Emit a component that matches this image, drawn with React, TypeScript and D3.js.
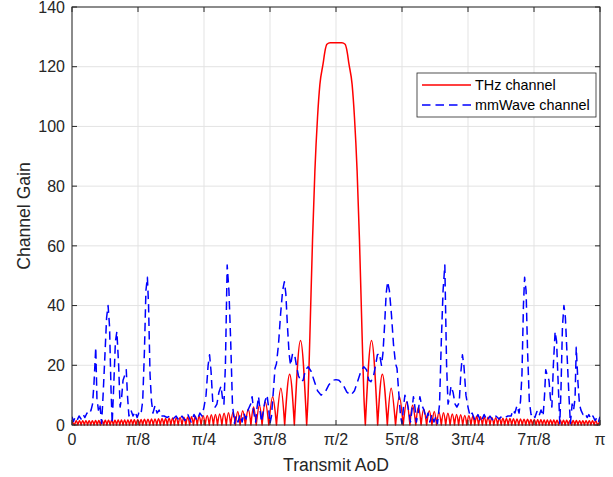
import React from 'react';
import * as d3 from 'd3';

// x in degrees (0..180 = 0..π), y = channel gain
const xTickValues = [0, 22.5, 45, 67.5, 90, 112.5, 135, 157.5, 180];
const xTickLabels = ['0', 'π/8', 'π/4', '3π/8', 'π/2', '5π/8', '3π/4', '7π/8', 'π'];
const yTickValues = [0, 20, 40, 60, 80, 100, 120, 140];

const thzMainLobe: number[][] = [
  [80.0, 0], [80.5, 10], [81.1, 30], [82.0, 62], [82.8, 85], [83.7, 103], [84.5, 114],
  [85.6, 121], [86.2, 125], [86.9, 127.5], [88.0, 128], [90, 128], [92.0, 128],
  [93.1, 127.5], [93.8, 125], [94.4, 121], [95.5, 114], [96.3, 103], [97.2, 85],
  [98.0, 62], [98.9, 30], [99.5, 10], [100.0, 0],
];

const thzSidelobesLeft: number[][] = [
  [0, 1.1], [0.9, 0], [1.45, 1.4], [2.0, 0], [2.55, 1.4], [3.1, 0], [3.65, 1.4], [4.2, 0],
  [4.75, 1.45], [5.3, 0], [5.85, 1.45], [6.4, 0], [6.95, 1.45], [7.5, 0], [8.05, 1.5], [8.6, 0],
  [9.15, 1.5], [9.7, 0], [10.25, 1.5], [10.8, 0], [11.35, 1.55], [11.9, 0], [12.45, 1.55], [13.0, 0],
  [13.55, 1.6], [14.1, 0], [14.65, 1.6], [15.2, 0], [15.75, 1.65], [16.3, 0], [16.85, 1.65], [17.4, 0],
  [17.95, 1.7], [18.5, 0], [19.05, 1.7], [19.6, 0], [20.15, 1.75], [20.7, 0], [21.25, 1.8], [21.8, 0],
  [22.4, 1.8], [23.0, 0], [23.55, 1.85], [24.1, 0], [24.7, 1.9], [25.3, 0], [25.9, 1.95], [26.5, 0],
  [27.1, 2.0], [27.7, 0], [28.3, 2.05], [28.9, 0], [29.5, 2.1], [30.1, 0], [30.7, 2.15], [31.3, 0],
  [31.9, 2.2], [32.5, 0], [33.1, 2.3], [33.7, 0], [34.3, 2.35], [34.9, 0], [35.55, 2.4], [36.2, 0],
  [36.85, 2.5], [37.5, 0], [38.15, 2.6], [38.8, 0], [39.45, 2.7], [40.1, 0], [40.75, 2.8], [41.4, 0],
  [42.05, 2.9], [42.7, 0], [43.35, 3.0], [44.0, 0], [44.7, 3.1], [45.4, 0], [46.1, 3.2], [46.8, 0],
  [47.5, 3.4], [48.2, 0], [48.9, 3.5], [49.6, 0], [50.35, 3.7], [51.1, 0], [51.85, 3.9], [52.6, 0],
  [53.35, 4.1], [54.1, 0], [54.9, 4.3], [55.7, 0], [56.5, 4.5], [57.3, 0], [58.2, 4.8], [59.1, 0],
  [60.1, 5.3], [61.0, 0], [61.9, 6.0], [62.8, 0], [63.9, 6.6], [64.8, 0], [65.9, 7.7], [67.1, 0],
  [68.4, 9.5], [69.7, 0], [71.2, 12.3], [72.5, 0], [74.2, 17.0], [75.8, 0], [77.9, 28.3], [80.0, 0],
];

const thzSidelobesRight: number[][] = [
  [100.0, 0], [102.1, 28.3], [104.2, 0], [105.8, 17.0], [107.5, 0], [108.8, 12.3], [110.3, 0],
  [111.6, 9.5], [112.9, 0], [114.1, 7.7], [115.2, 0], [116.1, 6.6], [117.2, 0], [118.1, 6.0], [119.0, 0],
  [119.9, 5.3], [120.9, 0], [121.8, 4.8], [122.7, 0], [123.5, 4.5], [124.3, 0], [125.1, 4.3], [125.9, 0],
  [126.65, 4.1], [127.4, 0], [128.15, 3.9], [128.9, 0], [129.65, 3.7], [130.4, 0], [131.1, 3.5], [131.8, 0],
  [132.5, 3.4], [133.2, 0], [133.9, 3.2], [134.6, 0], [135.3, 3.1], [136.0, 0], [136.65, 3.0], [137.3, 0],
  [137.95, 2.9], [138.6, 0], [139.25, 2.8], [139.9, 0], [140.55, 2.7], [141.2, 0], [141.85, 2.6], [142.5, 0],
  [143.15, 2.5], [143.8, 0], [144.45, 2.4], [145.1, 0], [145.7, 2.35], [146.3, 0], [146.9, 2.3], [147.5, 0],
  [148.1, 2.2], [148.7, 0], [149.3, 2.15], [149.9, 0], [150.5, 2.1], [151.1, 0], [151.7, 2.05], [152.3, 0],
  [152.9, 2.0], [153.5, 0], [154.1, 1.95], [154.7, 0], [155.3, 1.9], [155.9, 0], [156.45, 1.85], [157.0, 0],
  [157.6, 1.8], [158.2, 0], [158.75, 1.8], [159.3, 0], [159.85, 1.75], [160.4, 0], [160.95, 1.7], [161.5, 0],
  [162.05, 1.7], [162.6, 0], [163.15, 1.65], [163.7, 0], [164.25, 1.65], [164.8, 0], [165.35, 1.6], [165.9, 0],
  [166.45, 1.6], [167.0, 0], [167.55, 1.55], [168.1, 0], [168.65, 1.55], [169.2, 0], [169.75, 1.5], [170.3, 0],
  [170.85, 1.5], [171.4, 0], [171.95, 1.5], [172.5, 0], [173.05, 1.45], [173.6, 0], [174.15, 1.45], [174.7, 0],
  [175.25, 1.45], [175.8, 0], [176.35, 1.4], [176.9, 0], [177.45, 1.4], [178.0, 0], [178.55, 1.4], [179.1, 0],
  [180, 1.1],
];

const mmWaveGain: number[][] = [
  [0, 2.8], [0.5, 1.2], [1.0, 2.5], [1.7, 1.5], [2.4, 3], [3.1, 2], [3.8, 3.5], [4.4, 2.5], [5.1, 4],
  [5.8, 3.5], [6.5, 5], [7.0, 7], [7.5, 14], [8.1, 26], [8.5, 9], [9.0, 5], [9.5, 7], [10.1, 0.5],
  [10.6, 10], [11.3, 25], [11.8, 36], [12.3, 40], [12.8, 33], [13.3, 12], [13.7, 0.5], [14.3, 15],
  [14.8, 28], [15.3, 31.3], [15.9, 20], [16.4, 6], [16.9, 9], [17.4, 15], [18.1, 17], [18.5, 18.5],
  [18.9, 10], [19.4, 3], [20.1, 5], [20.8, 3], [21.5, 4.5], [22.2, 2.5], [22.8, 4], [23.5, 3.5],
  [24.1, 8], [24.7, 25], [25.2, 45], [25.7, 49.5], [26.1, 40], [26.6, 17], [27.1, 8], [27.6, 4],
  [28.3, 6.5], [29.0, 4], [29.7, 5], [30.3, 3], [31.4, 3], [32.4, 2.5], [33.4, 3], [34.4, 2],
  [35.5, 3], [36.5, 1.5], [37.5, 3], [38.5, 1.5], [39.5, 3.5], [40.6, 1], [41.6, 3.5], [42.6, 1.5],
  [43.6, 4], [44.3, 3], [45.0, 6], [45.7, 10], [46.4, 20], [46.9, 23.5], [47.4, 18], [48.0, 7.5],
  [48.8, 6], [49.4, 7], [50.1, 11], [50.8, 13], [51.3, 9], [51.8, 7], [52.3, 20], [52.9, 53.6],
  [53.5, 45], [54.1, 28], [54.7, 7], [55.4, 0.5], [55.9, 3], [56.6, 1], [57.3, 3.5], [58.0, 1],
  [58.6, 4], [59.3, 2], [60.0, 5], [60.9, 7], [61.4, 9.5], [62.0, 4], [62.6, 1], [63.1, 6],
  [63.6, 9.5], [64.1, 5], [64.6, 1], [65.1, 4], [65.8, 8], [66.5, 10], [67.0, 6], [67.5, 0.5],
  [68.0, 3], [68.7, 12], [69.2, 19], [69.7, 20.5], [70.4, 27], [71.1, 37], [71.8, 45], [72.4, 48],
  [72.9, 44], [73.4, 34], [74.0, 24], [74.5, 20], [75.2, 24], [75.9, 23.5], [76.5, 20], [77.2, 16.5],
  [78.1, 14.5], [78.8, 15], [79.6, 18.5], [80.5, 19.5], [81.5, 18], [82.5, 15], [83.7, 11.5],
  [84.9, 10], [86.3, 11], [87.6, 13.5], [89.0, 15], [90.0, 15.2],
  [91.0, 15], [92.4, 13.5], [93.7, 11], [95.1, 10], [96.3, 11.5], [97.5, 15], [98.5, 18], [99.5, 19.5],
  [100.4, 18.5], [101.2, 15], [101.9, 14.5], [102.8, 16.5], [103.5, 20], [104.1, 23.5], [104.8, 24],
  [105.5, 20], [106.0, 24], [106.6, 34], [107.1, 44], [107.6, 48], [108.2, 45], [108.9, 37],
  [109.6, 27], [110.3, 20.5], [110.8, 19], [111.3, 12], [112.0, 3], [112.5, 0.5], [113.0, 6],
  [113.5, 10], [114.2, 8], [114.9, 4], [115.4, 1], [115.9, 5], [116.4, 9.5], [116.9, 6], [117.4, 1],
  [118.0, 4], [118.6, 9.5], [119.1, 7], [120.0, 5], [120.7, 2], [121.4, 4], [122.0, 1], [122.7, 3.5],
  [123.4, 1], [124.1, 3], [124.6, 0.5], [125.3, 7], [125.9, 28], [126.5, 45], [127.1, 53.6],
  [127.7, 20], [128.2, 7], [128.7, 9], [129.2, 13], [129.9, 11], [130.6, 7], [131.2, 6], [132.0, 7.5],
  [132.6, 18], [133.1, 23.5], [133.6, 20], [134.3, 10], [135.0, 6], [135.7, 3], [136.4, 4],
  [137.4, 1.5], [138.4, 3.5], [139.4, 1], [140.5, 3.5], [141.5, 1.5], [142.5, 3], [143.5, 1.5],
  [144.5, 3], [145.6, 2], [146.6, 3], [147.6, 2.5], [148.6, 3], [149.7, 3], [150.3, 5], [151.0, 4],
  [151.7, 6.5], [152.4, 4], [152.9, 8], [153.4, 17], [153.9, 40], [154.3, 49.5], [154.8, 45],
  [155.3, 25], [155.9, 8], [156.5, 3.5], [157.2, 4], [157.8, 2.5], [158.5, 4.5], [159.2, 3],
  [159.9, 5], [160.6, 3], [161.1, 10], [161.5, 18.5], [161.9, 17], [162.6, 15], [163.1, 9],
  [163.6, 6], [164.1, 20], [164.7, 31.3], [165.2, 28], [165.7, 15], [166.3, 0.5], [166.7, 12],
  [167.2, 33], [167.7, 40], [168.2, 36], [168.7, 25], [169.4, 10], [169.9, 0.5], [170.5, 7],
  [171.0, 5], [171.5, 9], [171.9, 26], [172.5, 14], [173.0, 7], [173.5, 5], [174.2, 3.5], [174.9, 4],
  [175.6, 2.5], [176.2, 3.5], [176.9, 2], [177.6, 3], [178.3, 1.5], [179.0, 2.5], [179.5, 1.2], [180, 2.8],
];

const legendLabels = ['THz channel', 'mmWave channel'];

const FONT = '"Liberation Sans", Arial, Helvetica, sans-serif';
const AX = '#262626';

export default function App() {
  const W = 613, H = 477;
  const L = 72, R = 600, T = 7, B = 425;
  const x = d3.scaleLinear().domain([0, 180]).range([L, R]);
  const y = d3.scaleLinear().domain([0, 140]).range([B, T]);

  const arch = d3.line<number[]>().x(d => x(d[0])).y(d => y(d[1])).curve(d3.curveNatural);
  const smooth = d3.line<number[]>().x(d => x(d[0])).y(d => y(d[1])).curve(d3.curveMonotoneX);
  const straight = d3.line<number[]>().x(d => x(d[0])).y(d => y(d[1]));

  const archPath = (pts: number[][]) => {
    let d = '';
    let seg: number[][] = [pts[0]];
    for (let i = 1; i < pts.length; i++) {
      seg.push(pts[i]);
      if (pts[i][1] === 0) {
        d += arch(seg) || '';
        seg = [pts[i]];
      }
    }
    if (seg.length > 1) d += arch(seg) || '';
    return d;
  };

  const redD = archPath(thzSidelobesLeft) + (smooth(thzMainLobe) || '') + archPath(thzSidelobesRight);
  const blueD = straight(mmWaveGain) || '';

  return (
    <svg width={W} height={H} style={{ position: 'absolute', left: 0, top: 0, background: '#fff' }}
      fontFamily={FONT}>
      <defs>
        <clipPath id="plotClip">
          <rect x={L} y={T - 2} width={R - L} height={B - T + 4} />
        </clipPath>
      </defs>
      <rect x={0} y={0} width={W} height={H} fill="#fff" />
      {/* grid */}
      <g stroke="#e3e3e3" strokeWidth={1}>
        {xTickValues.map((v, i) => (
          <line key={'gx' + i} x1={x(v)} x2={x(v)} y1={T} y2={B} />
        ))}
        {yTickValues.map((v, i) => (
          <line key={'gy' + i} x1={L} x2={R} y1={y(v)} y2={y(v)} />
        ))}
      </g>
      {/* data */}
      <g clipPath="url(#plotClip)" fill="none">
        <path d={redD} stroke="#ff0000" strokeWidth={1.5} strokeLinejoin="round" strokeLinecap="round" />
        <path d={blueD} stroke="#0000ff" strokeWidth={1.5} strokeDasharray="8.5,5" strokeLinejoin="round" />
      </g>
      {/* axes box */}
      <g stroke={AX} strokeWidth={1} fill="none">
        <rect x={L} y={T} width={R - L} height={B - T} />
        {xTickValues.map((v, i) => (
          <g key={'tx' + i}>
            <line x1={x(v)} x2={x(v)} y1={B} y2={B - 5} />
            <line x1={x(v)} x2={x(v)} y1={T} y2={T + 5} />
          </g>
        ))}
        {yTickValues.map((v, i) => (
          <g key={'ty' + i}>
            <line x1={L} x2={L + 5} y1={y(v)} y2={y(v)} />
            <line x1={R} x2={R - 5} y1={y(v)} y2={y(v)} />
          </g>
        ))}
      </g>
      {/* tick labels */}
      <g fill={AX} fontSize={16}>
        {xTickValues.map((v, i) => (
          <text key={'lx' + i} x={x(v)} y={445} textAnchor="middle">{xTickLabels[i]}</text>
        ))}
        {yTickValues.map((v, i) => (
          <text key={'ly' + i} x={65} y={y(v)} dy="0.36em" textAnchor="end">{v}</text>
        ))}
      </g>
      <text x={(L + R) / 2} y={471} textAnchor="middle" fontSize={17.6} fill={AX}>Transmit AoD</text>
      <text transform={`translate(29.5, ${(T + B) / 2}) rotate(-90)`} textAnchor="middle" fontSize={17.6} fill={AX}>Channel Gain</text>
      {/* legend */}
      <g>
        <rect x={417} y={73} width={179} height={44} fill="#fff" stroke={AX} strokeWidth={0.8} />
        <line x1={422} x2={471} y1={85} y2={85} stroke="#ff0000" strokeWidth={1.5} />
        <line x1={422} x2={471} y1={105} y2={105} stroke="#0000ff" strokeWidth={1.5} strokeDasharray="8.5,5" />
        <text x={475} y={85} dy="0.36em" fontSize={14.4} fill="#000">{legendLabels[0]}</text>
        <text x={475} y={105} dy="0.36em" fontSize={14.4} fill="#000">{legendLabels[1]}</text>
      </g>
    </svg>
  );
}
